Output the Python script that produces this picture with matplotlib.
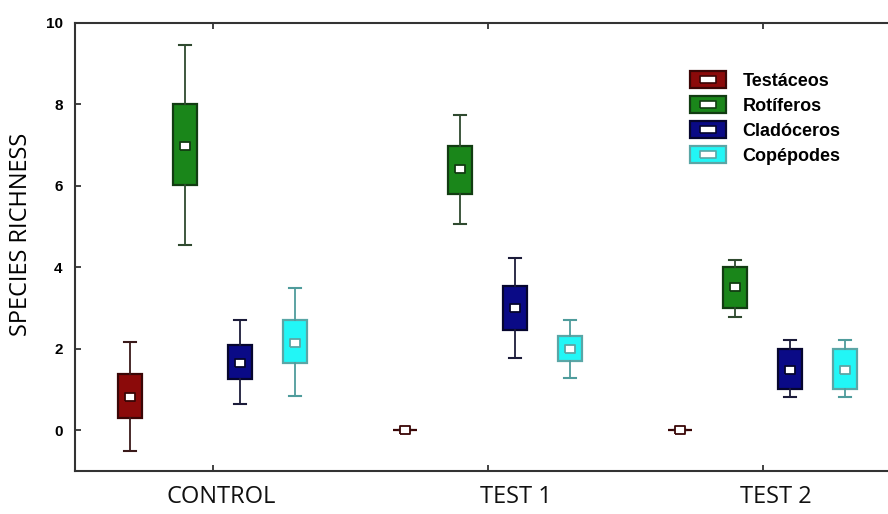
import matplotlib
matplotlib.use('Agg')
import matplotlib.pyplot as plt
from matplotlib.patches import Patch
from matplotlib.lines import Line2D

# datos (centro, caja, bigotes)
grupos = ['CONTROL', 'TEST 1', 'TEST 2']
taxones = ['Testáceos', 'Rotíferos', 'Cladóceros', 'Copépodes']

centro = {
    'Testáceos':  [0.82, 0.0, 0.0],
    'Rotíferos':  [6.98, 6.41, 3.52],
    'Cladóceros': [1.65, 3.01, 1.49],
    'Copépodes':  [2.15, 1.99, 1.49],
}
caja_inf = {
    'Testáceos':  [0.31, 0.0, 0.0],
    'Rotíferos':  [6.02, 5.81, 2.99],
    'Cladóceros': [1.25, 2.46, 1.01],
    'Copépodes':  [1.64, 1.70, 1.01],
}
caja_sup = {
    'Testáceos':  [1.38, 0.0, 0.0],
    'Rotíferos':  [8.00, 6.99, 4.00],
    'Cladóceros': [2.09, 3.55, 2.00],
    'Copépodes':  [2.70, 2.31, 2.00],
}
bigote_inf = {
    'Testáceos':  [-0.51, 0.0, 0.0],
    'Rotíferos':  [4.55, 5.06, 2.79],
    'Cladóceros': [0.64, 1.78, 0.81],
    'Copépodes':  [0.84, 1.29, 0.81],
}
bigote_sup = {
    'Testáceos':  [2.17, 0.0, 0.0],
    'Rotíferos':  [9.45, 7.74, 4.19],
    'Cladóceros': [2.70, 4.22, 2.21],
    'Copépodes':  [3.50, 2.70, 2.21],
}

relleno = ['#8b0a0a', '#1a861a', '#0a0a86', '#22f6f6']
borde = ['#3a0606', '#123c12', '#06062e', '#5aa6a6']
bigote_col = ['#3a1a1a', '#2f4a2f', '#1c1c3a', '#4f9c9c']
desplaz = [-0.3, -0.1, 0.1, 0.3]

# marcador rectangular para el centro
rect = [(-1, -0.75), (1, -0.75), (1, 0.75), (-1, 0.75), (-1, -0.75)]
rect_ley = [(-1, -0.42), (1, -0.42), (1, 0.42), (-1, 0.42), (-1, -0.42)]

fig = plt.figure(figsize=(8.88, 5.14), dpi=100)
ax = fig.add_axes([75/888, 43/514, 813/888, 448/514])

pos_grupo = [1, 2, 3]
for i, t in enumerate(taxones):
    stats = []
    for g in range(len(grupos)):
        stats.append({'med': centro[t][g], 'mean': centro[t][g],
                      'q1': caja_inf[t][g], 'q3': caja_sup[t][g],
                      'whislo': bigote_inf[t][g], 'whishi': bigote_sup[t][g],
                      'fliers': []})
    ax.bxp(stats, positions=[p + desplaz[i] for p in pos_grupo], widths=0.084,
           capwidths=0.045, patch_artist=True, showmeans=True,
           boxprops=dict(facecolor=relleno[i], edgecolor=borde[i], linewidth=1.6),
           whiskerprops=dict(color=bigote_col[i], linewidth=1.3),
           capprops=dict(color=bigote_col[i], linewidth=1.5),
           medianprops=dict(visible=False),
           meanprops=dict(marker=rect, markersize=7, markerfacecolor='white',
                          markeredgecolor=borde[i], markeredgewidth=1.3),
           manage_ticks=False)

ax.set_xlim(0.5, 0.5 + 813/275)
ax.set_ylim(-1, 10)
ax.set_yticks([0, 2, 4, 6, 8, 10])
ax.set_xticks(pos_grupo)
ax.set_xticklabels([])
ax.tick_params(axis='both', direction='in', length=4, width=1.2, color='#222222')
ax.tick_params(axis='x', top=True)
ax.tick_params(axis='y', pad=9, labelsize=11)
for lab in ax.get_yticklabels():
    lab.set_fontweight('bold')
    lab.set_family('Liberation Sans')
for s in ['left', 'top', 'bottom']:
    ax.spines[s].set_linewidth(1.5)
    ax.spines[s].set_color('#333333')
ax.spines['right'].set_visible(False)

# etiquetas de grupo
etiq_x = [1.033, 2.105, 3.05]
for x, g in zip(etiq_x, grupos):
    ax.text(x, -0.058, g, transform=ax.get_xaxis_transform(), ha='center', va='center',
            fontsize=17, family='Open Sans', color='#111111')

ax.set_ylabel('SPECIES RICHNESS', fontsize=17, family='Open Sans')
ax.yaxis.set_label_coords(-0.052, 0.529)

handles = []
for i in range(4):
    handles.append((Patch(facecolor=relleno[i], edgecolor=borde[i], linewidth=1.6),
                    Line2D([], [], linestyle='none', marker=rect_ley, markersize=12,
                           markerfacecolor='white', markeredgecolor=borde[i],
                           markeredgewidth=1.2)))
ley = ax.legend(handles, taxones, loc='upper left', bbox_to_anchor=(674/888, 1 - 55/514),
                bbox_transform=fig.transFigure, frameon=False, handlelength=2.0,
                handleheight=1.05, handletextpad=0.9, labelspacing=0.36,
                prop={'family': 'Liberation Sans', 'weight': 'bold', 'size': 13})

fig.savefig('out.png', dpi=100)
